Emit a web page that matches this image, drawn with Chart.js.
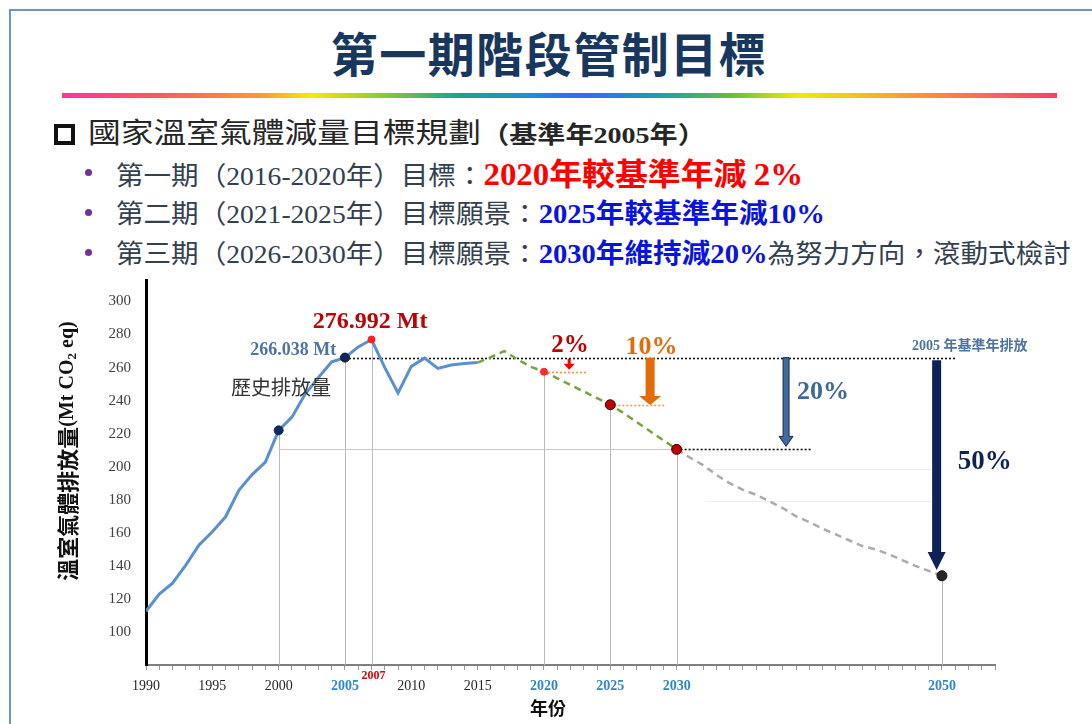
<!DOCTYPE html>
<html>
<head>
<meta charset="utf-8">
<script src="https://cdn.jsdelivr.net/npm/chart.js@4.4.1/dist/chart.umd.min.js"></script>
<style>
body{margin:0;background:#fff;}
#slide{position:relative;width:1092px;height:724px;overflow:hidden;font-family:"Noto Sans CJK TC","Noto Sans",sans-serif;}
.frame{position:absolute;left:9px;top:9px;width:1200px;height:900px;border-top:2px solid #6f95c8;border-left:2px solid #6f95c8;}
.title{position:absolute;left:3px;width:1092px;top:22px;text-align:center;font-size:47px;font-weight:bold;color:#17375e;line-height:60px;letter-spacing:1.5px;}
.rainbow{position:absolute;left:62px;top:93px;width:995px;height:5px;
  background:linear-gradient(90deg,#ff3399 0%,#ff5a5a 10%,#ff9933 20%,#ffe600 25%,#8ccc33 32%,#19a38c 40%,#1e8fd6 47%,#3366ff 52%,#1a9fb0 60%,#5cbf3a 67%,#f2ec00 74%,#ff9933 85%,#ff3d6e 100%);}
.sq{position:absolute;left:54px;top:124px;width:13px;height:13px;border:4px solid #111;}
.line{position:absolute;white-space:nowrap;transform-origin:left center;}
.b{left:116px;font-size:26px;line-height:34px;color:#33404f;transform:scaleX(1.06);}
.dot{position:absolute;left:85px;width:7px;height:7px;border-radius:50%;background:#7030a0;}
.num{font-family:"Liberation Serif",serif;}
.red{color:#ff0000;font-weight:bold;font-size:31px;}
.blue{color:#0a14e0;font-weight:bold;font-size:27px;}
#c{position:absolute;left:0;top:270px;}
</style>
</head>
<body>
<div id="slide">
  <div class="frame"></div>
  <div class="title">第一期階段管制目標</div>
  <div class="rainbow"></div>
  <div class="sq"></div>
  <div class="line" style="left:88px;top:114px;font-size:28px;line-height:34px;color:#262626;transform:scaleX(1.17);">國家溫室氣體減量目標規劃<span style="font-size:24px;font-weight:bold;">（基準年<span class="num">2005</span>年）</span></div>
  <div class="dot" style="top:169px"></div>
  <div class="line b" style="top:155px">第一期（<span class="num">2016-2020</span>年）目標：<span class="red"><span class="num">2020</span>年較基準年減 <span class="num">2%</span></span></div>
  <div class="dot" style="top:209px"></div>
  <div class="line b" style="top:195px">第二期（<span class="num">2021-2025</span>年）目標願景：<span class="blue"><span class="num">2025</span>年較基準年減<span class="num">10%</span></span></div>
  <div class="dot" style="top:249px"></div>
  <div class="line b" style="top:235px">第三期（<span class="num">2026-2030</span>年）目標願景：<span class="blue"><span class="num">2030</span>年維持減<span class="num">20%</span></span>為努力方向，滾動式檢討</div>
  <canvas id="c" width="1092" height="454"></canvas>
</div>
<script>
// 歷史排放量 1990-2015
const histYears = [1990,1991,1992,1993,1994,1995,1996,1997,1998,1999,2000,2001,2002,
  2003,2004,2005,2006,2007,2008,2009,2010,2011,2012,2013,2014,2015];
const histValues = [112.5,122.9,129.5,140.5,152.6,160.6,169.7,185.7,195.2,202.8,222,230,244,
  254,263.5,266.038,272.5,276.992,260,244.6,260.7,265.7,259.5,261.6,262.4,263];
// 減量路徑 2015-2030
const pathYears = [2015,2016,2017,2018,2019,2020,2021,2022,2023,2024,2025,2026,2027,2028,2029,2030];
const pathValues = [263,266.3,270,265,260.5,257.5,253.5,249.5,245.5,241.5,237.5,232.5,227,221.5,216,210.5];
// 長期目標 2030-2050
const longYears = [2030,2031,2032,2033,2034,2035,2036,2037,2038,2039,2040,
  2041,2042,2043,2044,2045,2046,2047,2048,2049,2050];
const longValues = [210.5,205.5,201,195,190,186,183,179,175,170,166.5,
  162.5,159,155.5,152,150,147,143.5,140,137,134];
// 關鍵年
const markYears = [2000,2005,2007,2020,2025,2030,2050];
const markValues = [222,266.038,276.992,257.5,237.5,210.5,134];
const baseValue = 266.038;
const tickYears = [1990,1995,2000,2005,2010,2015,2020,2025,2030,2050];
const blueYears = [2005,2020,2025,2030,2050];

const SERIF = '"Liberation Serif", serif';
const SANS = '"Noto Sans CJK TC", sans-serif';

const pts = (xs, ys) => xs.map((x, i) => ({x: x, y: ys[i]}));
const isBlue = c => !!(c.tick && blueYears.includes(Math.round(c.tick.value)));

// guide lines (data units)
const dotted = [
  {x1: 2005, x2: 2051.1, y: baseValue, color: '#111', dash: [2, 2]},
  {x1: 2020, x2: 2023.2, y: 257.5, color: '#f79646', dash: [2, 2]},
  {x1: 2025, x2: 2029.2, y: 237.5, color: '#f79646', dash: [2, 2]},
  {x1: 2030, x2: 2040.2, y: 210.5, color: '#111', dash: [2, 2]},
  {x1: 2000, x2: 2030, y: 210.5, color: '#c8c8c8', dash: []},
  {x1: 2032.2, x2: 2049.7, y: 198.6, color: '#ededed', dash: []},
  {x1: 2032.2, x2: 2049.7, y: 179.3, color: '#ededed', dash: []}
];
const arrows = [
  {x: 2021.9, from: 265.4, to: 258.7, shaft: 3, head: 11, headH: 6, fill: '#ff0000', stroke: null},
  {x: 2028.0, from: 266, to: 237.4, shaft: 9, head: 22, headH: 9, fill: '#e36c0a', stroke: null},
  {x: 2038.25, from: 266, to: 212.3, shaft: 6, head: 14, headH: 10, fill: '#3e6a9e', stroke: '#1c2b40'},
  {x: 2049.6, from: 264.5, to: 137.5, shaft: 9, head: 18, headH: 18, fill: '#0d2256', stroke: null}
];
const notes = [
  {text: '276.992 Mt', x: 2006.9, y: 287.6, font: 'bold 24px ' + SERIF, color: '#c00000', align: 'center'},
  {text: '266.038 Mt', x: 2001.1, y: 270.7, font: 'bold 18px ' + SERIF, color: '#4f73a3', align: 'center'},
  {text: '歷史排放量', x: 1996.4, y: 247.7, font: '20px ' + SANS, color: '#333', align: 'left'},
  {text: '2%', x: 2021.96, y: 273.1, font: 'bold 25px ' + SERIF, color: '#c00000', align: 'center'},
  {text: '10%', x: 2028.1, y: 272.5, font: 'bold 26px ' + SERIF, color: '#e36c0a', align: 'center'},
  {text: '20%', x: 2039.07, y: 245.3, font: 'bold 26px ' + SERIF, color: '#3d6a9b', align: 'left'},
  {text: '50%', x: 2051.2, y: 202.9, font: 'bold 27px ' + SERIF, color: '#0d2256', align: 'left'},
  {text: '2005 年基準年排放', x: 2052.1, y: 272.7, font: 'bold 14px ' + SERIF + ', ' + SANS, color: '#4f73a3', align: 'center'},
  {text: '2007', x: 2007.15, y: 73.3, font: 'bold 12px ' + SERIF, color: '#e00000', align: 'center'}
];

function seg(ctx, x1, y1, x2, y2, color, w, dash) {
  ctx.beginPath();
  ctx.setLineDash(dash);
  ctx.strokeStyle = color;
  ctx.lineWidth = w;
  ctx.moveTo(x1, y1);
  ctx.lineTo(x2, y2);
  ctx.stroke();
}

const guides = {
  id: 'guides',
  beforeDatasetsDraw(chart) {
    const {ctx, scales: {x, y}} = chart;
    ctx.save();
    markYears.forEach((yr, i) => {
      const px = Math.round(x.getPixelForValue(yr)) + 0.5;
      seg(ctx, px, y.getPixelForValue(markValues[i]), px, y.bottom, '#b8b8b8', 1, []);
    });
    dotted.forEach(d => {
      const py = Math.round(y.getPixelForValue(d.y)) + 0.5;
      seg(ctx, x.getPixelForValue(d.x1), py, x.getPixelForValue(d.x2), py, d.color, d.dash.length ? 1.6 : 1.2, d.dash);
    });
    ctx.restore();
  },
  afterDatasetsDraw(chart) {
    const {ctx, scales: {x, y}} = chart;
    ctx.save();
    ctx.setLineDash([]);
    arrows.forEach(a => {
      const cx = x.getPixelForValue(a.x);
      const top = y.getPixelForValue(a.from);
      const tip = y.getPixelForValue(a.to);
      const s = a.shaft / 2, h = a.head / 2;
      ctx.beginPath();
      ctx.moveTo(cx - s, top);
      ctx.lineTo(cx + s, top);
      ctx.lineTo(cx + s, tip - a.headH);
      ctx.lineTo(cx + h, tip - a.headH);
      ctx.lineTo(cx, tip);
      ctx.lineTo(cx - h, tip - a.headH);
      ctx.lineTo(cx - s, tip - a.headH);
      ctx.closePath();
      ctx.fillStyle = a.fill;
      ctx.fill();
      if (a.stroke) {
        ctx.strokeStyle = a.stroke;
        ctx.lineWidth = 1;
        ctx.stroke();
      }
    });
    ctx.textBaseline = 'middle';
    notes.forEach(n => {
      ctx.font = n.font;
      ctx.fillStyle = n.color;
      ctx.textAlign = n.align;
      ctx.fillText(n.text, x.getPixelForValue(n.x), y.getPixelForValue(n.y));
    });
    // y axis title
    ctx.save();
    ctx.translate(68, 181);
    ctx.rotate(-Math.PI / 2);
    const parts = [
      {t: '溫室氣體排放量', f: 'bold 22px ' + SANS, dy: 0},
      {t: '(Mt CO', f: 'bold 20px ' + SERIF, dy: 0},
      {t: '2', f: 'bold 13px ' + SERIF, dy: 5},
      {t: ' eq)', f: 'bold 20px ' + SERIF, dy: 0}
    ];
    let total = 0;
    parts.forEach(p => { ctx.font = p.f; p.w = ctx.measureText(p.t).width; total += p.w; });
    let px = -total / 2;
    ctx.textAlign = 'left';
    ctx.fillStyle = '#111';
    parts.forEach(p => { ctx.font = p.f; ctx.fillText(p.t, px, p.dy); px += p.w; });
    ctx.restore();
    // x axis title
    ctx.font = 'bold 18px ' + SANS;
    ctx.textAlign = 'center';
    ctx.fillStyle = '#111';
    ctx.fillText('年份', 548, 438);
    ctx.restore();
  }
};

new Chart(document.getElementById('c').getContext('2d'), {
  type: 'line',
  data: {
    datasets: [
      {label: '歷史排放量', data: pts(histYears, histValues), borderColor: '#5b8fd3', borderWidth: 3,
        pointRadius: 0, tension: 0, order: 1},
      {label: '減量路徑', data: pts(pathYears, pathValues), borderColor: '#77a33c', borderWidth: 2.5,
        borderDash: [7, 5], pointRadius: 0, order: 1},
      {label: '長期目標', data: pts(longYears, longValues), borderColor: '#ababab', borderWidth: 2.5,
        borderDash: [7, 5], pointRadius: 0, order: 1},
      {type: 'scatter', label: '關鍵年', data: pts(markYears, markValues), order: 0,
        pointRadius: [4.5, 4.5, 3.5, 3.5, 5, 5, 5],
        pointBackgroundColor: ['#0e2a5a', '#0e2a5a', '#ff2020', '#ff2a2a', '#c00000', '#c00000', '#262626'],
        pointBorderColor: ['#0e2a5a', '#111', '#ff2020', '#ff2a2a', '#3a0000', '#3a0000', '#111'],
        pointBorderWidth: 1}
    ]
  },
  options: {
    responsive: false,
    animation: false,
    layout: {padding: {top: 10, right: 97, left: 0, bottom: 0}},
    plugins: {legend: {display: false}, tooltip: {enabled: false}},
    scales: {
      x: {
        type: 'linear', min: 1990, max: 2054,
        border: {color: '#7f7f7f', width: 2},
        grid: {drawOnChartArea: false, drawTicks: true, tickLength: 5, color: '#9a9a9a'},
        ticks: {
          stepSize: 1, autoSkip: false, maxRotation: 0, padding: 8,
          callback: v => tickYears.includes(Math.round(v)) ? String(Math.round(v)) : '',
          color: c => isBlue(c) ? '#2f86d0' : '#262626',
          font: c => ({family: SERIF, size: 14, weight: isBlue(c) ? 'bold' : 'normal'})
        },
        afterFit: a => { a.height = 59; a.paddingLeft = 0; a.paddingRight = 0; }
      },
      y: {
        min: 80, max: 313,
        border: {color: '#000', width: 3},
        grid: {display: false, drawTicks: false},
        ticks: {
          stepSize: 20, padding: 15, color: '#404040',
          font: {family: SERIF, size: 15},
          callback: v => (v >= 100 && v <= 300) ? v : ''
        },
        afterFit: a => { a.width = 146; a.paddingTop = 0; a.paddingBottom = 0; }
      }
    }
  },
  plugins: [guides]
});
</script>
</body>
</html>
